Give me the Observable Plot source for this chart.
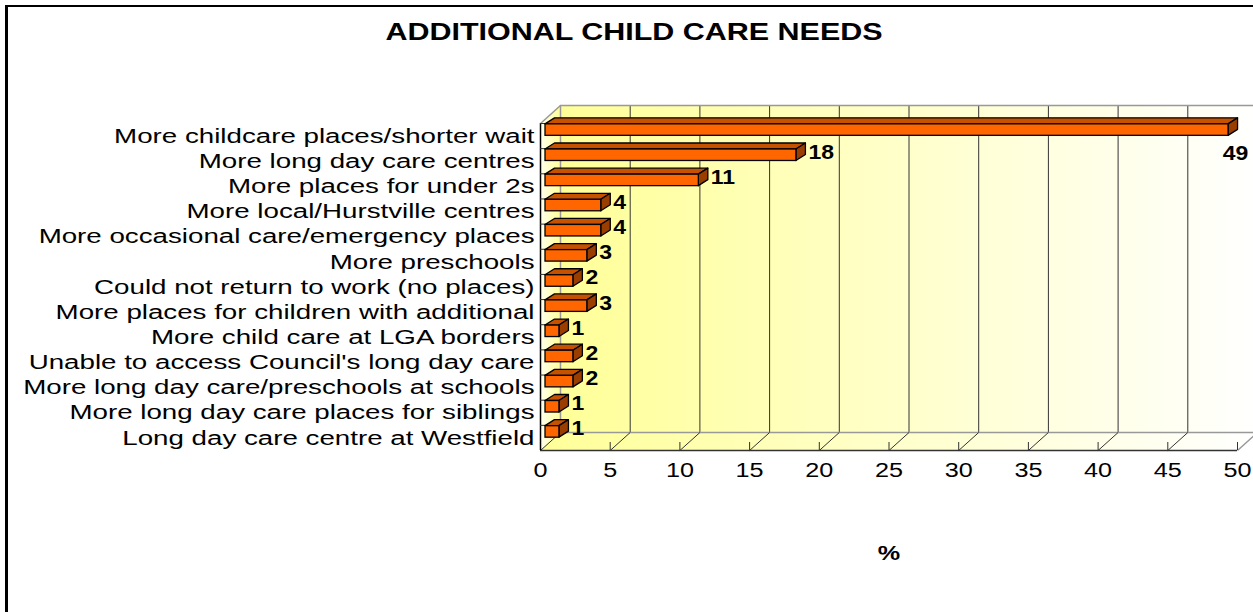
<!DOCTYPE html>
<html><head><meta charset="utf-8">
<script src="https://cdn.jsdelivr.net/npm/d3@7"></script>
<script src="https://cdn.jsdelivr.net/npm/@observablehq/plot@0.6"></script>
<style>
html,body{margin:0;padding:0;background:#fff;overflow:hidden;width:1253px;height:612px}
#frame{position:absolute;left:5px;top:5px;width:1400px;height:800px;border-left:3px solid #000;border-top:2px solid #000;box-sizing:border-box}
#title{position:absolute;left:633.5px;top:21px;font:bold 23px "Liberation Sans",Arial,sans-serif;line-height:1;white-space:nowrap;transform:translateX(-50%) scaleX(1.325);transform-origin:50% 50%}
#chart{position:absolute;left:0;top:0}
</style></head><body>
<div id="frame"></div>
<div id="title">ADDITIONAL CHILD CARE NEEDS</div>
<div id="chart"></div>
<script>
const categories = [
  "More childcare places/shorter wait",
  "More long day care centres",
  "More places for under 2s",
  "More local/Hurstville centres",
  "More occasional care/emergency places",
  "More preschools",
  "Could not return to work (no places)",
  "More places for children with additional",
  "More child care at LGA borders",
  "Unable to access Council's long day care",
  "More long day care/preschools at schools",
  "More long day care places for siblings",
  "Long day care centre at Westfield"
];
const values = [49, 18, 11, 4, 4, 3, 2, 3, 1, 2, 2, 1, 1];
const xTicks = [0, 5, 10, 15, 20, 25, 30, 35, 40, 45, 50];
const axisTitle = "%";

const W = 1253, H = 612, mL = 540, mR = 16, mT = 123, mB = 162;
const n = categories.length;
const xMax = xTicks[xTicks.length - 1];
const kx = (W - mL - mR) / xMax, ky = (H - mT - mB) / n;
const wx = 20 / kx, wy = 18 / ky;        // wall depth in data units
const bx = 9.5 / kx, by = 6 / ky;        // bar depth
const hh = 5.75 / ky;                    // half bar height

const rows = categories.map((c, i) => ({c, v: values[i], i}));
const topFaces = rows.flatMap(r => [
  {i: r.i, y: r.i + 0.5 - hh, x1: 0, x2: r.v},
  {i: r.i, y: r.i + 0.5 - hh - by, x1: bx, x2: r.v + bx}
]);
const sideFaces = rows.flatMap(r => [
  {i: r.i, x: r.v, y1: r.i + 0.5 - hh, y2: r.i + 0.5 + hh},
  {i: r.i, x: r.v + bx, y1: r.i + 0.5 - hh - by, y2: r.i + 0.5 + hh - by}
]);
const overflow = r => r.v * kx + 17 + 30 > (W - mL - mR);

const barOff = {dx: 5, dy: -6};
const wallOff = {dx: 20, dy: -18};

const svg = Plot.plot({
  width: W, height: H,
  marginLeft: mL, marginRight: mR, marginTop: mT, marginBottom: mB,
  x: {domain: [0, xMax], axis: null},
  y: {domain: [0, n], reverse: true, axis: null},
  style: {fontFamily: "Liberation Sans, Arial, sans-serif", color: "#000", background: "transparent", overflow: "visible"},
  marks: [
    Plot.areaY([{x: 0, y1: 0, y2: n}, {x: wx, y1: -wy, y2: n - wy}], {x: "x", y1: "y1", y2: "y2", fill: "url(#sideGrad)"}),
    Plot.areaX([{y: n, x1: 0, x2: xMax}, {y: n - wy, x1: wx, x2: xMax + wx}], {y: "y", x1: "x1", x2: "x2", fill: "url(#floorGrad)"}),
    Plot.rect([0], {x1: () => 0, x2: () => xMax, y1: () => 0, y2: () => n, fill: "url(#wallGrad)", ...wallOff}),
    Plot.ruleX(xTicks.slice(1), {y1: () => 0, y2: () => n, stroke: "#333", strokeWidth: 1, ...wallOff}),
    Plot.ruleX([0], {y1: () => 0, y2: () => n, stroke: "#999", strokeWidth: 1.5, ...wallOff}),
    Plot.ruleY([0, n], {x1: () => 0, x2: () => xMax, stroke: "#999", strokeWidth: 1.5, ...wallOff}),
    Plot.link([0], {x1: () => 0, y1: () => 0, x2: () => wx, y2: () => -wy, stroke: "#999", strokeWidth: 1.5}),
    Plot.link(xTicks.slice(0, -1), {x1: d => d, y1: () => n, x2: d => d + wx, y2: () => n - wy, stroke: "#333", strokeWidth: 1}),
    Plot.link(xTicks.slice(-1), {x1: d => d, y1: () => n, x2: d => d + wx, y2: () => n - wy, stroke: "#999", strokeWidth: 1.5}),
    Plot.ruleY([n], {x1: () => 0, x2: () => xMax, stroke: "#333", strokeWidth: 1.5}),
    Plot.ruleX(xTicks, {y1: () => n - 8 / ky, y2: () => n, stroke: "#333", strokeWidth: 1}),
    Plot.ruleX([0], {y1: () => 0, y2: () => n, stroke: "#000", strokeWidth: 1.5}),
    Plot.ruleY(d3.range(n + 1), {x1: () => 0, x2: () => 6 / kx, stroke: "#333", strokeWidth: 1}),
    Plot.areaX(topFaces, {x1: "x1", x2: "x2", y: "y", z: "i", fill: "#C65200", stroke: "#000", strokeWidth: 1.3, ...barOff}),
    Plot.areaY(sideFaces, {x: "x", y1: "y1", y2: "y2", z: "i", fill: "#993D00", stroke: "#000", strokeWidth: 1.3, ...barOff}),
    Plot.rect(rows, {x1: () => 0, x2: "v", y1: d => d.i + 0.5 - hh, y2: d => d.i + 0.5 + hh, fill: "#FF6600", stroke: "#000", strokeWidth: 1.3, ...barOff}),
    Plot.text(categories, {x: () => 0, y: (d, i) => i + 0.5, text: d => d, textAnchor: "end", dx: -6, fontSize: 21, fill: "#000", ariaDescription: "cat-labels"}),
    Plot.text(xTicks, {x: d => d, y: () => n, text: d => String(d), dy: 20, fontSize: 21, fill: "#000", ariaDescription: "tick-labels"}),
    Plot.text(rows.filter(r => !overflow(r)), {x: "v", y: d => d.i + 0.5, text: d => String(d.v), textAnchor: "start", dx: 17, dy: -9, fontWeight: "bold", fontSize: 20, fill: "#000", ariaDescription: "value-labels"}),
    Plot.text(rows.filter(overflow), {x: "v", y: d => d.i + 0.5, text: d => String(d.v), textAnchor: "middle", dx: 12, dy: 18, fontWeight: "bold", fontSize: 20, fill: "#000", ariaDescription: "value-labels"}),
    Plot.text([axisTitle], {x: () => (xTicks[0] + xMax) / 2, y: () => n, text: d => d, dy: 103, fontWeight: "bold", fontSize: 21, fill: "#000", ariaDescription: "axis-title"})
  ]
});

const defs = d3.select(svg).insert("defs", ":first-child");
function grad(id, stops) {
  const g = defs.append("linearGradient").attr("id", id).attr("x1", 0).attr("x2", 1).attr("y1", 0).attr("y2", 0);
  stops.forEach(([o, c]) => g.append("stop").attr("offset", o).attr("stop-color", c));
}
grad("wallGrad", [[0, "#FFFF99"], [1, "#FFFFFF"]]);
grad("floorGrad", [[0, "#FFFF99"], [1, "#FFFFFF"]]);
grad("sideGrad", [[0, "#FFFFF0"], [1, "#FFFF99"]]);

// horizontal stretch of text, as in the original rendering
const stretches = {"cat-labels": 1.32, "tick-labels": 1.2, "value-labels": 1.15, "axis-title": 1.2};
svg.querySelectorAll("text").forEach(t => {
  const g = t.closest("g[aria-description]");
  const s = (g && stretches[g.getAttribute("aria-description")]) || 1.2;
  const tr = t.getAttribute("transform");
  if (tr) t.setAttribute("transform", tr + ` scale(${s},1)`);
  else {
    const x = +t.getAttribute("x") || 0, y = +t.getAttribute("y") || 0;
    t.removeAttribute("x"); t.removeAttribute("y");
    t.setAttribute("transform", `translate(${x},${y}) scale(${s},1)`);
  }
});

document.getElementById("chart").appendChild(svg);
</script>
</body></html>
